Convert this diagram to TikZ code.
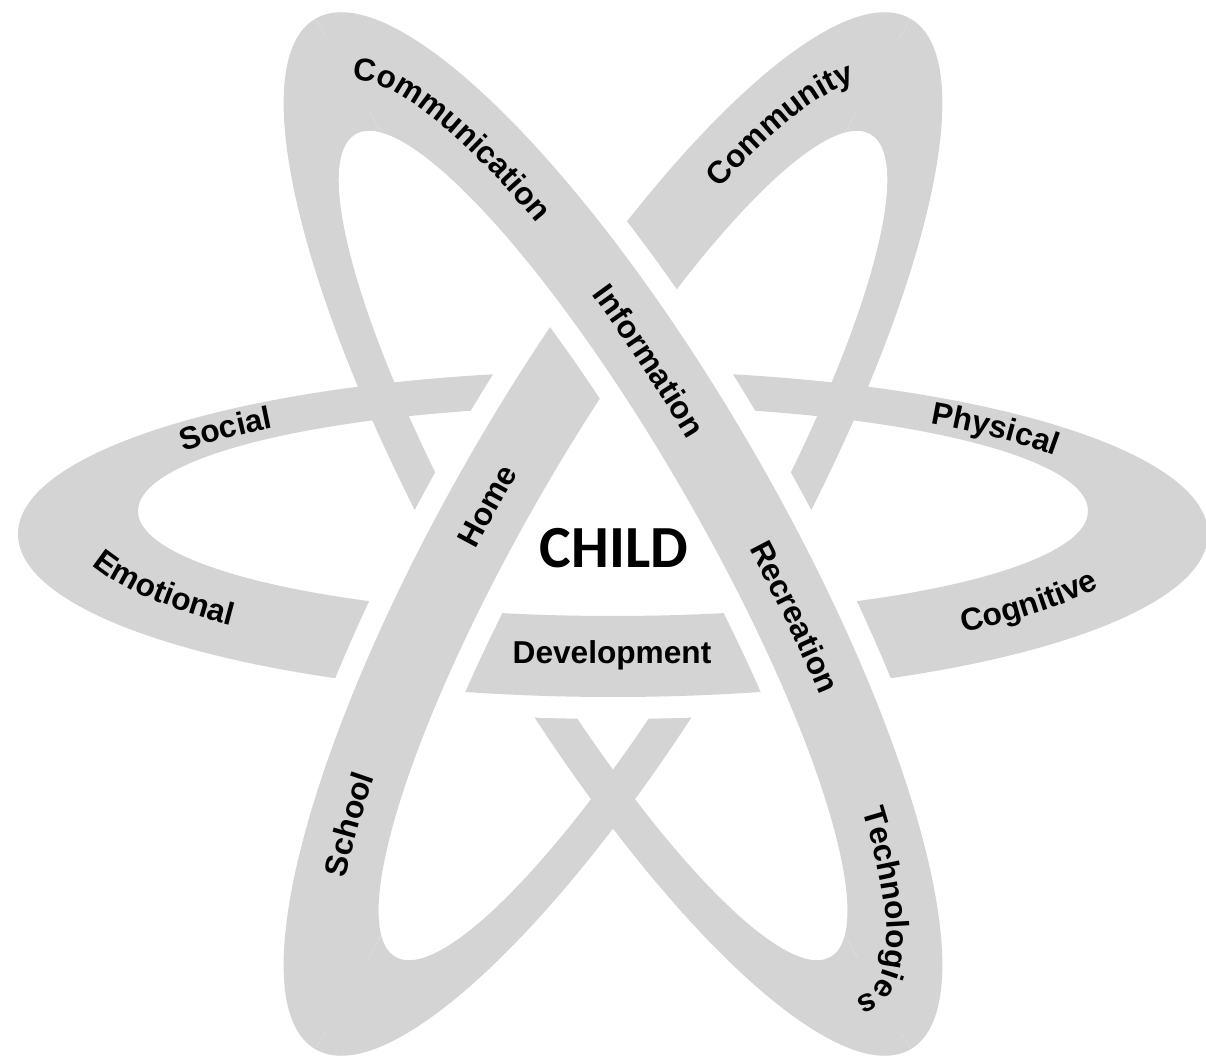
\documentclass[tikz,border=0pt]{standalone}
\usepackage{fontspec}
\setmainfont{Liberation Sans}
\newfontfamily\childfont{Carlito}
\usetikzlibrary{decorations.text}

\definecolor{ringgrey}{RGB}{212,212,212}
\newcommand\lblfont{\fontsize{18}{18}\selectfont\bfseries}
% one ring: outer ellipse, inner ellipse pushed to the thin side
\newcommand\ringpath{(0,0) ellipse [x radius=595, y radius=163] (0,23) ellipse [x radius=475, y radius=105]}
% text along a ring: start angle, end angle, x radius, y radius, text
\newcommand\ringlabel[5]{\path[decorate,decoration={text along path,text align=center,text={|\lblfont|#5}}]
  ([shift={(0,11.5)}]#1:#3 and #4) arc[start angle=#1,end angle=#2,x radius=#3,y radius=#4];}

\begin{document}
\begin{tikzpicture}[x=0.2mm,y=0.2mm,
  ring/.style={fill=ringgrey,even odd rule},
  ringgap/.style={draw=white,line width=8.8mm}]
\useasboundingbox (0,0) rectangle (1206,1063);

\begin{scope}[shift={(613,529)}]
% the three rings
\fill[ring] \ringpath;
\fill[ring,rotate=120] \ringpath;
\fill[ring,rotate=-120] \ringpath;
% wide side of each ring goes over: first H, then B, then A
\foreach \ang in {0,-120,120}{
  \begin{scope}[rotate=\ang]
    \clip (-700,0) rectangle (700,-300);
    \path[ringgap] \ringpath;
    \fill[ring] \ringpath;
  \end{scope}
}

% horizontal ring
\ringlabel{149.5}{127}{525}{124}{Social}
\ringlabel{56}{27.7}{525}{124}{Physical}
\ringlabel{192}{228}{545}{144}{Emotional}
\ringlabel{308}{336.5}{545}{144}{Cognitive}
% ring from top left
\begin{scope}[rotate=120]
\ringlabel{7}{-57.8}{525}{124}{Communication}
\ringlabel{-63.5}{-87}{525}{124}{Information}
\ringlabel{263.3}{240}{525}{124}{Recreation}
\ringlabel{229}{167}{525}{124}{Technologies}
\end{scope}
% ring from top right
\begin{scope}[rotate=-120]
\ringlabel{230.6}{184.7}{525}{124}{Community}
\ringlabel{280.8}{267.6}{525}{124}{Home}
\ringlabel{330.7}{305.1}{525}{124}{School}
\end{scope}
\end{scope}

\node (child) at (614,515) {\childfont\fontsize{34}{34}\selectfont\bfseries CHILD};
\node (dev) at (612,408) {\lblfont Development};

\end{tikzpicture}
\end{document}
